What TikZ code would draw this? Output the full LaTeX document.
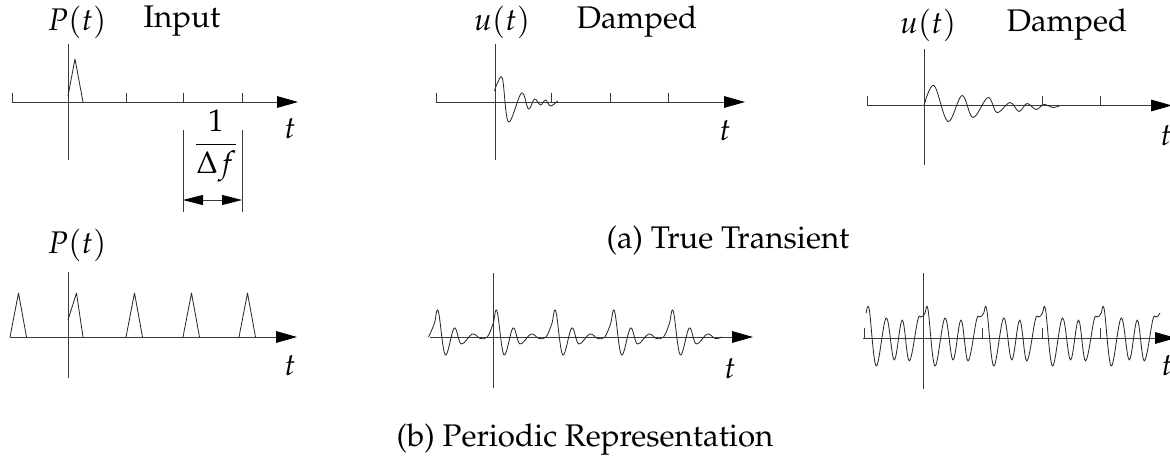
\documentclass[tikz,border=0pt]{standalone}
\usepackage[T1]{fontenc}
\usepackage{mathpazo}
\usepackage{tikz}
\usetikzlibrary{arrows.meta}
\definecolor{axisgray}{HTML}{3A3A3A}

% collects the points of one response curve, one list of s/v per period
\newcommand{\wavepts}{}
\newcommand{\buildwave}[6]{%
  \gdef\wavepts{}%
  \foreach \k in {-1,...,5}{%
    \foreach \s/\v in {#4}{%
      \pgfmathsetmacro\px{#1+#2*\k+\s}%
      \pgfmathsetmacro\py{#3-(\v)}%
      \pgfmathparse{and(\px>=#5,\px<=#6)}%
      \ifdim\pgfmathresult pt>0.5pt\xdef\wavepts{\wavepts(\px,\py)}\fi
    }%
  }%
}
\newcommand{\drawwave}{%
  \edef\tmpwave{\noexpand\draw[wave] plot[smooth, tension=0.6] coordinates {\wavepts};}\tmpwave}

\begin{document}
\begin{tikzpicture}[x=0.3mm, y=-0.3mm,
    axis/.style={draw=axisgray, line width=0.7pt},
    arr/.style={axis, -{Triangle[length=6.3mm, width=3.5mm, color=black]}},
    dim/.style={axis, {Triangle[length=6mm, width=3mm, color=black]}-{Triangle[length=6mm, width=3mm, color=black]}},
    wave/.style={draw=black!85, line width=0.7pt, line join=round},
    lbl/.style={font=\fontsize{26.7}{32}\selectfont, inner sep=0pt}
]
    \useasboundingbox (0,0) rectangle (1170,474);

    % (a) input pulse
    \coordinate (h1a) at (12,102);   \coordinate (h1b) at (298,102);
    \coordinate (v1a) at (68,44);    \coordinate (v1b) at (68,160);
    \draw[arr] (h1a) -- (h1b);
    \draw[axis] (v1a) -- (v1b);
    \foreach \x in {12,126,183,242}
        \draw[axis] (\x,102) -- (\x,93);
    \draw[wave] (68,96) -- (75,59) -- (83,102);
    \node[lbl] (p1) at (77,22) {$P(t)$};
    \node[lbl] (input) at (182,21) {Input};
    \node[lbl] (t1) at (290,129) {$t$};

    \coordinate (d1a) at (183,130);  \coordinate (d1b) at (183,212);
    \coordinate (d2a) at (242,130);  \coordinate (d2b) at (242,212);
    \draw[axis] (d1a) -- (d1b);
    \draw[axis] (d2a) -- (d2b);
    \coordinate (da) at (183,200);   \coordinate (db) at (242,200);
    \draw[dim] (da) -- (db);
    \node[lbl] (df) at (216,146) {$\displaystyle\frac{1}{\Delta f}$};

    % (a) damped response, short
    \coordinate (h2a) at (436,102);  \coordinate (h2b) at (745,102);
    \coordinate (v2a) at (495,44);   \coordinate (v2b) at (495,160);
    \draw[arr] (h2a) -- (h2b);
    \draw[axis] (v2a) -- (v2b);
    \foreach \x in {436,551,610,668}
        \draw[axis] (\x,102) -- (\x,93);
    \buildwave{494.5}{1000}{102}{0/11,3/19,8/23,14/-20,27/9,34/-7,40/3,46/-3,51/2,56/-4,63/1}{494}{600}
    \drawwave
    \node[lbl] (u2) at (502,22) {$u(t)$};
    \node[lbl] (damp2) at (637,22) {Damped};
    \node[lbl] (t2) at (725,131) {$t$};

    % (a) damped response, long
    \coordinate (h3a) at (867,105.5); \coordinate (h3b) at (1172,105.5);
    \coordinate (v3a) at (924,49);    \coordinate (v3b) at (924,165);
    \draw[arr] (h3a) -- (h3b);
    \draw[axis] (v3a) -- (v3b);
    \foreach \x in {867,1042,1100}
        \draw[axis] (\x,105.5) -- (\x,96);
    \buildwave{924}{1000}{105.5}{0/0,10/20,24/-16,38/10,49/-12,64/8,73/-7,86/3,95/-6,103/2,112/-4,120/1,129/-2,136/0}{923}{1100}
    \drawwave
    \node[lbl] (u3) at (928,25) {$u(t)$};
    \node[lbl] (damp3) at (1067,25) {Damped};
    \node[lbl] (t3) at (1166,136) {$t$};

    \node[lbl] (capa) at (728,240) {(a) True Transient};

    % (b) periodic input
    \coordinate (h4a) at (10,337);   \coordinate (h4b) at (297,337);
    \coordinate (v4a) at (68,272);   \coordinate (v4b) at (68,378);
    \draw[arr] (h4a) -- (h4b);
    \draw[axis] (v4a) -- (v4b);
    \foreach \x in {10,126,183,239}
        \draw[wave] (\x,337) -- (\x+8.5,293) -- (\x+16.5,337);
    \draw[wave] (68,320) -- (76.5,293) -- (83,337);
    \node[lbl] (p4) at (77,245) {$P(t)$};
    \node[lbl] (t4) at (290,366) {$t$};

    % (b) periodic response, short
    \coordinate (h5a) at (430,337);  \coordinate (h5b) at (753,337);
    \coordinate (v5a) at (493,273);  \coordinate (v5b) at (493,388);
    \draw[arr] (h5a) -- (h5b);
    \draw[axis] (v5a) -- (v5b);
    \buildwave{434.25}{58.75}{337}{0/13,4/26,11/-18,20/9,27/-7,38/3,46/-1.5,53/0}{428}{726}
    \drawwave
    \node[lbl] (t5) at (730,369) {$t$};

    % (b) periodic response, long
    \coordinate (h6a) at (863,338);  \coordinate (h6b) at (1176,338);
    \coordinate (v6a) at (923,273);  \coordinate (v6b) at (923,389);
    \draw[arr] (h6a) -- (h6b);
    \draw[axis] (v6a) -- (v6b);
    \foreach \x in {864,982,1042,1100}
        \draw[axis] (\x,338) -- (\x,328);
    \buildwave{923}{58.75}{338}{0/22,2/25,5/28.5,12/-28,22/20,30/-22,38/18,45/-23,53.5/18,56.5/21}{865}{1160}
    \drawwave
    \node[lbl] (t6) at (1167,366) {$t$};

    \node[lbl] (capb) at (585,440) {(b) Periodic Representation};
\end{tikzpicture}
\end{document}
